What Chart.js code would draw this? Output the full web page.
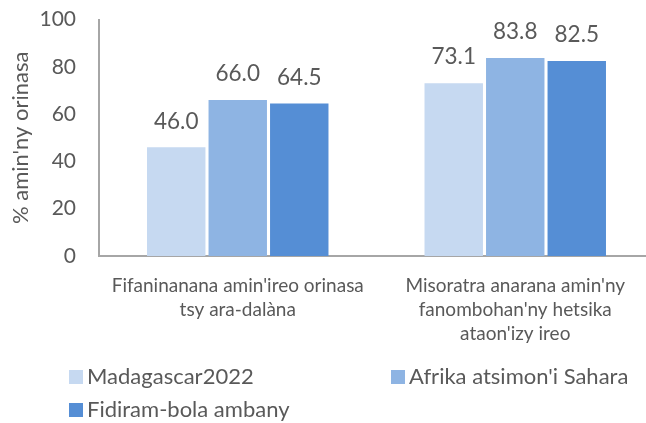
<!DOCTYPE html>
<html>
<head>
<meta charset="utf-8">
<script src="https://cdn.jsdelivr.net/npm/chart.js@4.4.1/dist/chart.umd.min.js"></script>
<style>
  html, body { margin: 0; padding: 0; background: #fff; overflow: hidden; }
  #wrap { width: 654px; height: 439px; position: relative; margin-top: -16px; }
</style>
</head>
<body>
<div id="wrap"><canvas id="chart"></canvas></div>
<script>
// data
const categories = [
    ["Fifaninanana amin'ireo orinasa", "tsy ara-dalàna"],
    ["Misoratra anarana amin'ny", "fanombohan'ny hetsika", "ataon'izy ireo"]
];
const seriesNames = ["Madagascar2022", "Afrika atsimon'i Sahara", "Fidiram-bola ambany"];
const madagascar = [46.0, 73.1];
const afrika = [66.0, 83.8];
const fidiram = [64.5, 82.5];
const yTicks = [0, 20, 40, 60, 80, 100];
const colors = ['#c6d9f1', '#8eb4e3', '#558ed5'];

const textColor = '#595959';
const fontFamily = 'Lato, "Open Sans", sans-serif';

// value labels above each bar
const valueLabels = {
    id: 'valueLabels',
    afterDatasetsDraw(chart) {
        const ctx = chart.ctx;
        ctx.save();
        ctx.font = '22.5px ' + fontFamily;
        ctx.fillStyle = textColor;
        ctx.textAlign = 'center';
        ctx.textBaseline = 'middle';
        chart.data.datasets.forEach((ds, i) => {
            chart.getDatasetMeta(i).data.forEach((bar, j) => {
                ctx.fillText(ds.data[j].toFixed(1), bar.x, bar.y - 26);
            });
        });
        ctx.restore();
    }
};

// legend laid out in two columns like the original (canvas is shifted up 16px)
const gridLegend = {
    id: 'gridLegend',
    afterDraw(chart) {
        const ctx = chart.ctx;
        const cols = [69, 391];
        const rows = [393, 426];
        ctx.save();
        ctx.font = '22px ' + fontFamily;
        ctx.textBaseline = 'middle';
        ctx.textAlign = 'left';
        chart.data.datasets.forEach((ds, i) => {
            const x = cols[i % 2];
            const y = rows[Math.floor(i / 2)];
            ctx.fillStyle = ds.backgroundColor;
            ctx.fillRect(x, y - 7, 14, 14);
            ctx.fillStyle = textColor;
            ctx.fillText(ds.label, x + 18, y);
        });
        ctx.restore();
    }
};

const datasets = [madagascar, afrika, fidiram].map((vals, i) => ({
    label: seriesNames[i],
    data: vals,
    backgroundColor: colors[i],
    borderWidth: 0,
    barPercentage: 0.95,
    categoryPercentage: 0.665
}));

new Chart(document.getElementById('chart'), {
    type: 'bar',
    data: { labels: categories, datasets: datasets },
    options: {
        responsive: true,
        maintainAspectRatio: false,
        animation: false,
        layout: { padding: { top: 3, right: 0, left: 0, bottom: 0 } },
        plugins: {
            legend: { display: false },
            tooltip: { enabled: false }
        },
        scales: {
            x: {
                grid: { display: false, drawTicks: false },
                border: { color: '#a6a6a6', width: 2 },
                ticks: {
                    color: textColor,
                    font: { family: fontFamily, size: 19, lineHeight: 1.27 },
                    padding: 18,
                    maxRotation: 0,
                    autoSkip: false
                },
                afterFit(scale) { scale.height = 167; }
            },
            y: {
                min: 0,
                max: 100,
                afterBuildTicks(scale) {
                    scale.ticks = yTicks.map(v => ({ value: v }));
                },
                grid: { display: false, drawTicks: false },
                border: { color: '#a6a6a6', width: 2 },
                ticks: {
                    color: textColor,
                    font: { family: fontFamily, size: 21 },
                    padding: 23
                },
                title: {
                    display: true,
                    text: "% amin'ny orinasa",
                    color: textColor,
                    font: { family: fontFamily, size: 22 },
                    padding: { top: 8, bottom: 0 }
                },
                afterFit(scale) { scale.width = 99; }
            }
        }
    },
    plugins: [valueLabels, gridLegend]
});
</script>
</body>
</html>
